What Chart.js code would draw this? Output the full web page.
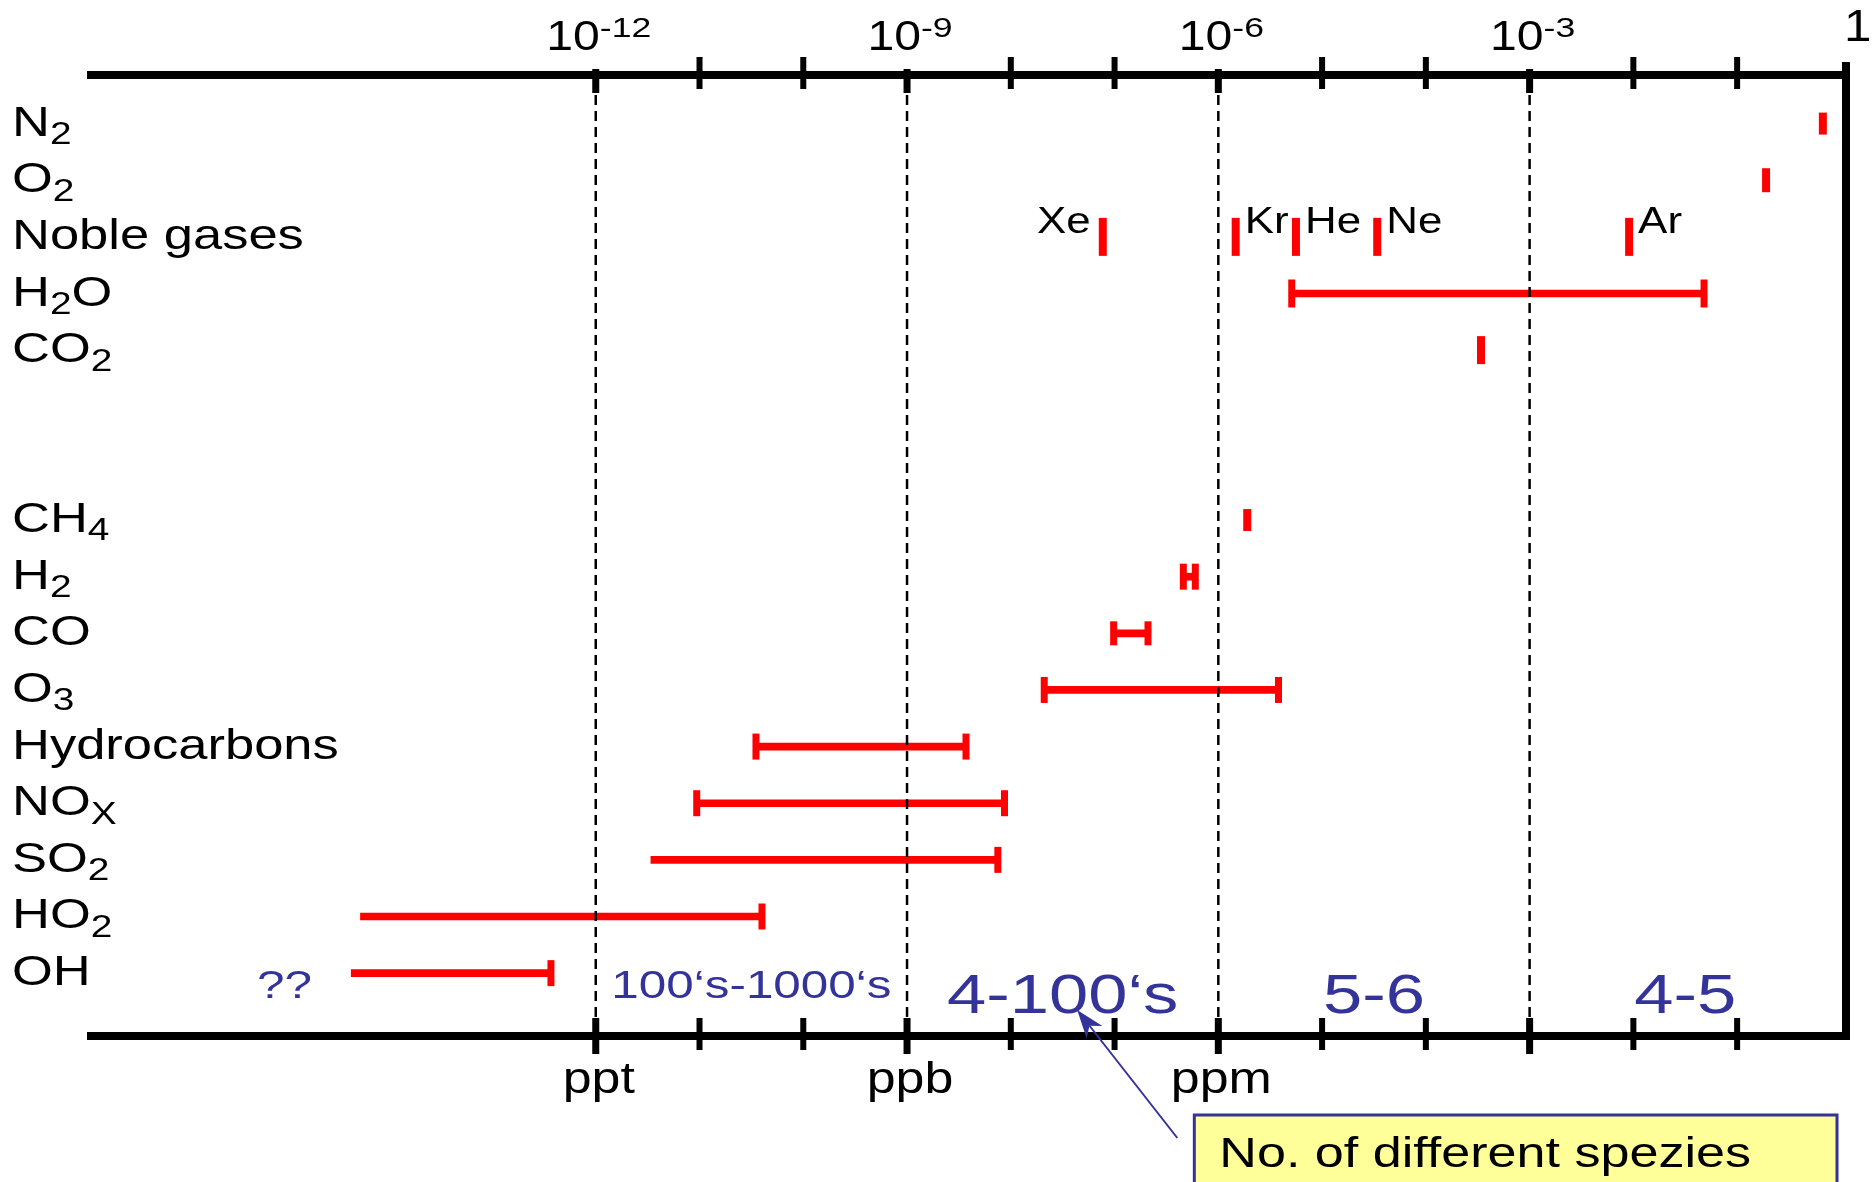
<!DOCTYPE html>
<html>
<head>
<meta charset="utf-8">
<script src="https://cdn.jsdelivr.net/npm/chart.js@4.4.1/dist/chart.umd.min.js"></script>
<style>
  html, body { margin: 0; padding: 0; background: #ffffff; }
  canvas { display: block; }
</style>
</head>
<body>
<canvas id="chart" width="1873" height="1182"></canvas>
<script>
// Rows from top to bottom ('' = empty spacer rows). _{..} = subscript, ^{..} = superscript
const species = ['N_{2}', 'O_{2}', 'Noble gases', 'H_{2}O', 'CO_{2}', '', '', 'CH_{4}', 'H_{2}', 'CO', 'O_{3}', 'Hydrocarbons', 'NO_{X}', 'SO_{2}', 'HO_{2}', 'OH'];

// Concentration ranges (mixing ratio)
const rangeSpecies = ['H_{2}O', 'H_{2}', 'CO', 'O_{3}', 'Hydrocarbons', 'NO_{X}', 'SO_{2}', 'HO_{2}', 'OH'];
const rangeLow = [5.1e-6, 4.6e-7, 9.8e-8, 2.1e-8, 3.5e-11, 9.4e-12, 3.4e-12, 5.4e-15, 4.4e-15];
const rangeHigh = [0.048, 6.0e-7, 2.1e-7, 3.8e-6, 3.7e-9, 8.7e-9, 7.5e-9, 4.0e-11, 3.7e-13];
const lowerLimitKnown = [true, true, true, true, true, true, false, false, false];

// Single values
const markSpecies = ['N_{2}', 'O_{2}', 'Noble gases', 'Noble gases', 'Noble gases', 'Noble gases', 'Noble gases', 'CO_{2}', 'CH_{4}'];
const markValues = [0.67, 0.19, 7.7e-8, 1.47e-6, 5.6e-6, 3.4e-5, 9.1e-3, 3.4e-4, 1.9e-6];
const markNames = ['', '', 'Xe', 'Kr', 'He', 'Ne', 'Ar', '', ''];

// Axis ticks and labels
const decadeTicks = [1e-12, 1e-11, 1e-10, 1e-9, 1e-8, 1e-7, 1e-6, 1e-5, 1e-4, 1e-3, 1e-2, 1e-1];
const majorTicks = [1e-12, 1e-9, 1e-6, 1e-3];
const topLabels = ['10^{-12}', '10^{-9}', '10^{-6}', '10^{-3}'];
const unitLabels = ['ppt', 'ppb', 'ppm'];
const unitValues = [1e-12, 1e-9, 1e-6];

// Number of different species in each concentration band
const countLabels = ['??', '100‘s-1000‘s', '4-100‘s', '5-6', '4-5'];
const bandLow = [1e-18, 1e-12, 1e-9, 1e-6, 1e-3];
const bandHigh = [1e-12, 1e-9, 1e-6, 1e-3, 1];

// Styles
const RED = '#ff0000';
const BLUE = '#333399';
const FONT = "'Liberation Sans', Arial, sans-serif";
const halfHeight = { 'N_{2}': 11, 'O_{2}': 12, 'Noble gases': 19, 'CO_{2}': 14, 'CH_{4}': 11, 'H_{2}': 13, 'CO': 12, 'H_{2}O': 14 };
const countSize = [38, 38, 56, 56, 56];

const rowOf = (name) => species.indexOf(name);

// Range bars (floating bars)
const rangeData = rangeSpecies.map((s, i) => ({ y: rowOf(s), x: [rangeLow[i], rangeHigh[i]] }));

// End caps of the ranges and single value marks
const capData = [];
rangeSpecies.forEach((s, i) => {
    if (lowerLimitKnown[i]) capData.push({ x: rangeLow[i], y: rowOf(s), s });
    capData.push({ x: rangeHigh[i], y: rowOf(s), s });
});
markSpecies.forEach((s, i) => capData.push({ x: markValues[i], y: rowOf(s), s, mark: true }));

// Text with sub/superscripts, stretched horizontally like the original slide
function richText(ctx, text, x, y, size, opt = {}) {
    const sx = opt.sx || 1.2;
    const parts = text.split(/(_\{[^}]*\}|\^\{[^}]*\})/).filter(Boolean).map((p) => {
        if (p[0] === '_') return { t: p.slice(2, -1), size: size * 0.74, dy: size * 0.2, k: 1 };
        if (p[0] === '^') return { t: p.slice(2, -1), size: size * 0.66, dy: -size * 0.3, k: 1.12 };
        return { t: p, size, dy: 0, k: 1 };
    });
    ctx.save();
    ctx.fillStyle = opt.color || '#000';
    ctx.textBaseline = 'alphabetic';
    ctx.textAlign = 'left';
    let w = 0;
    parts.forEach((p) => {
        ctx.font = `${p.size}px ${FONT}`;
        p.w = ctx.measureText(p.t).width * p.k;
        w += p.w;
    });
    let cx = opt.align === 'center' ? -w / 2 : opt.align === 'right' ? -w : 0;
    ctx.translate(x, y);
    ctx.scale(sx, 1);
    parts.forEach((p) => {
        ctx.font = `${p.size}px ${FONT}`;
        ctx.save();
        ctx.translate(cx, p.dy);
        ctx.scale(p.k, 1);
        ctx.fillText(p.t, 0, 0);
        ctx.restore();
        cx += p.w;
    });
    ctx.restore();
}

// Frame, ticks, dashed lines and all the texts
const framePlugin = {
    id: 'frame',
    afterDatasetsDraw(chart) {
        const { ctx, chartArea, scales } = chart;
        const { left, right, top, bottom } = chartArea;
        const xs = scales.x;
        const ys = scales.y;
        ctx.save();

        // dashed reference lines
        ctx.strokeStyle = '#000';
        ctx.lineWidth = 2.5;
        ctx.setLineDash([10, 6]);
        majorTicks.forEach((v) => {
            const px = xs.getPixelForValue(v);
            ctx.beginPath();
            ctx.moveTo(px, top + 4);
            ctx.lineTo(px, bottom - 4);
            ctx.stroke();
        });
        ctx.setLineDash([]);

        // axis lines and right border
        ctx.fillStyle = '#000';
        ctx.fillRect(left, top - 4, right - left + 4, 8);
        ctx.fillRect(left, bottom - 4, right - left + 4, 8);
        ctx.fillRect(right - 4, top - 13, 8, bottom - top + 17);

        // ticks
        decadeTicks.forEach((v) => {
            const px = xs.getPixelForValue(v);
            if (majorTicks.includes(v)) {
                ctx.fillRect(px - 3.5, top - 6, 7, 24);
                ctx.fillRect(px - 3.5, bottom - 18, 7, 36);
            } else {
                ctx.fillRect(px - 3, top - 18, 6, 32);
                ctx.fillRect(px - 3, bottom - 18, 6, 32);
            }
        });

        // top labels
        topLabels.forEach((t, i) => {
            richText(ctx, t, xs.getPixelForValue(majorTicks[i]) + 3, top - 25, 43, { align: 'center', sx: 1.12 });
        });
        richText(ctx, '1', right - 2, top - 34, 44, { sx: 1.12 });

        // unit labels under the axis
        unitLabels.forEach((t, i) => {
            richText(ctx, t, xs.getPixelForValue(unitValues[i]) + 3, bottom + 57, 44, { align: 'center', sx: 1.18 });
        });

        // species labels
        species.forEach((s, i) => {
            if (s) richText(ctx, s, 12, ys.getPixelForValue(i) + 12, 42, { sx: 1.25 });
        });

        // noble gas names
        markNames.forEach((n, i) => {
            if (!n) return;
            const px = xs.getPixelForValue(markValues[i]);
            const py = ys.getPixelForValue(rowOf(markSpecies[i])) - 4;
            if (n === 'Xe') richText(ctx, n, px - 12, py, 36, { align: 'right', sx: 1.22 });
            else richText(ctx, n, px + 9, py, 36, { sx: 1.22 });
        });

        // number of species per band
        countLabels.forEach((t, i) => {
            const mid = Math.sqrt(bandLow[i] * bandHigh[i]);
            const big = countSize[i] > 40;
            richText(ctx, t, xs.getPixelForValue(mid), bottom - (big ? 23 : 38), countSize[i], { align: 'center', sx: big ? 1.26 : 1.3, color: BLUE });
        });

        // note box with arrow
        const boxLeft = xs.getPixelForValue(1e-6) - 24;
        const boxTop = bottom + 79;
        const boxRight = right - 9;
        ctx.fillStyle = '#ffff99';
        ctx.fillRect(boxLeft, boxTop, boxRight - boxLeft, 120);
        ctx.strokeStyle = BLUE;
        ctx.lineWidth = 3;
        ctx.strokeRect(boxLeft, boxTop, boxRight - boxLeft, 120);
        richText(ctx, 'No. of different spezies', boxLeft + 25, boxTop + 52, 42, { sx: 1.24 });

        const tx = xs.getPixelForValue(Math.pow(10, -7.36));
        const ty = bottom - 26;
        const fx = boxLeft - 17;
        const fy = boxTop + 23;
        const len = Math.hypot(tx - fx, ty - fy);
        const ux = (tx - fx) / len;
        const uy = (ty - fy) / len;
        ctx.strokeStyle = BLUE;
        ctx.lineWidth = 2;
        ctx.beginPath();
        ctx.moveTo(fx, fy);
        ctx.lineTo(tx - ux * 20, ty - uy * 20);
        ctx.stroke();
        ctx.fillStyle = BLUE;
        ctx.beginPath();
        ctx.moveTo(tx, ty);
        ctx.lineTo(tx - ux * 28 - uy * 10, ty - uy * 28 + ux * 10);
        ctx.lineTo(tx - ux * 20, ty - uy * 20);
        ctx.lineTo(tx - ux * 28 + uy * 10, ty - uy * 28 - ux * 10);
        ctx.closePath();
        ctx.fill();

        ctx.restore();
    },
};

new Chart(document.getElementById('chart').getContext('2d'), {
    type: 'bar',
    data: {
        datasets: [
            {
                type: 'bar',
                indexAxis: 'y',
                data: rangeData,
                backgroundColor: RED,
                borderWidth: 0,
                barThickness: 7,
            },
            {
                type: 'scatter',
                indexAxis: 'x',
                data: capData,
                pointStyle: 'line',
                pointRotation: 90,
                pointRadius: (c) => (c.raw ? halfHeight[c.raw.s] || 13 : 13),
                pointBorderColor: RED,
                pointBackgroundColor: RED,
                pointBorderWidth: (c) => (c.raw && c.raw.mark ? 8 : 7),
            },
        ],
    },
    options: {
        indexAxis: 'y',
        responsive: false,
        animation: false,
        events: [],
        devicePixelRatio: 1,
        layout: { padding: { left: 87, right: 25, top: 75, bottom: 146 } },
        plugins: {
            legend: { display: false },
            tooltip: { enabled: false },
        },
        scales: {
            x: { type: 'logarithmic', min: 1.25e-17, max: 1.12, bounds: 'data', offset: false, display: false },
            y: { type: 'linear', min: -0.858, max: 16.11, reverse: true, offset: false, display: false },
        },
    },
    plugins: [framePlugin],
});
</script>
</body>
</html>
